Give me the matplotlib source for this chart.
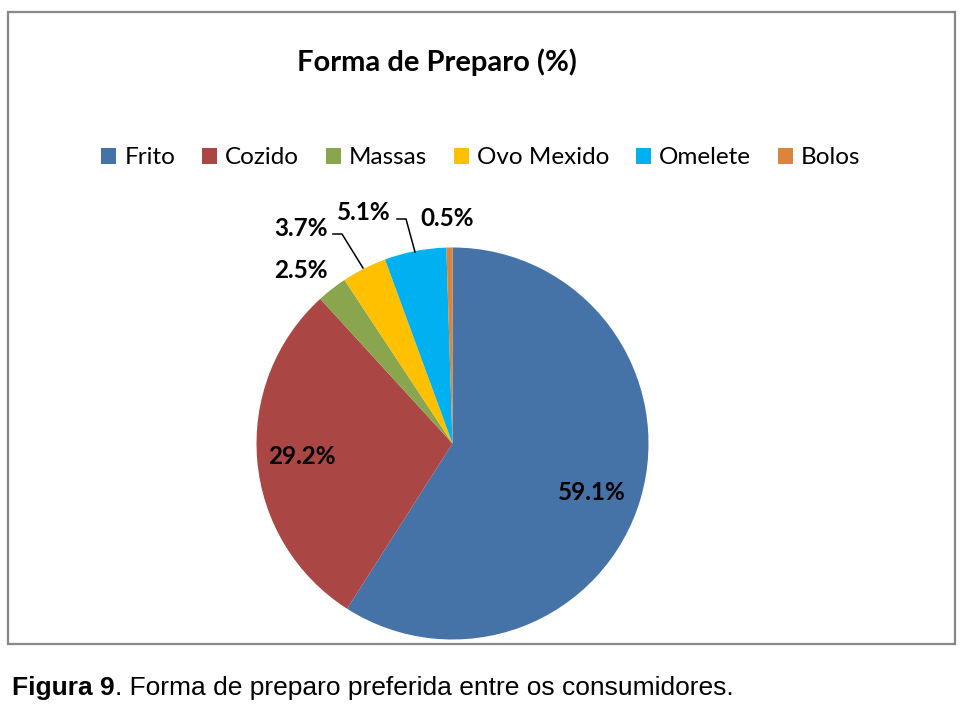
import matplotlib
matplotlib.use("Agg")
import matplotlib.pyplot as plt
import numpy as np
from matplotlib.patches import Rectangle

categories = ["Frito", "Cozido", "Massas", "Ovo Mexido", "Omelete", "Bolos"]
values = [59.1, 29.2, 2.5, 3.7, 5.1, 0.5]
colors = ["#4572A7", "#AA4643", "#89A54E", "#FFC000", "#00B0F0", "#DB843D"]
title = "Forma de Preparo (%)"

W, H = 973, 707
fig = plt.figure(figsize=(W / 100, H / 100), dpi=100)
ax = fig.add_axes([0, 0, 1, 1])

FONT = "Lato"

# chart border
ax.add_patch(Rectangle((8, H - 644), 947, 632, fill=False, edgecolor="#878787", linewidth=1.6))

cx, cy, R = 452.5, H - 443.5, 196
wedges, _ = ax.pie(values, colors=colors, startangle=90, counterclock=False,
                   center=(cx, cy), radius=R, frame=True,
                   wedgeprops=dict(linewidth=0))
ax.set_xlim(0, W)
ax.set_ylim(0, H)
ax.set_aspect("equal")
ax.axis("off")

# data labels (pixel positions, image coords)
label_pos = [(592, 492), (302, 457), (301, 270), (301, 229), (364, 212), (447, 218)]
for v, (x, y) in zip(values, label_pos):
    ax.text(x, H - y, f"{v:.1f}%", ha="center", va="center", fontsize=17.5,
            fontweight="bold", family=FONT, color="black")

# leader lines
leaders = [
    [(333, 234), (342, 234), (363, 268)],
    [(397, 219), (406, 219), (415, 252)],
]
for pts in leaders:
    xs = [p[0] for p in pts]
    ys = [H - p[1] for p in pts]
    ax.plot(xs, ys, color="black", linewidth=1.1)

ax.text(437, H - 62, title, ha="center", va="center", fontsize=21,
        fontweight="bold", family=FONT)

leg = fig.legend(wedges, categories, loc="center", bbox_to_anchor=(481 / W, 1 - 158 / H),
                 ncol=6, frameon=False, prop=dict(family=FONT, size=17.5),
                 handlelength=0.62, handleheight=0.62, handletextpad=0.33,
                 columnspacing=1.1)

# caption
fig.canvas.draw()
t1 = fig.text(12 / W, 1 - 688 / H, "Figura 9", ha="left", va="center", fontsize=19,
              fontweight="bold", family="Liberation Sans")
r = fig.canvas.get_renderer()
bb = t1.get_window_extent(renderer=r)
fig.text(bb.x1 / W, 1 - 688 / H, ". Forma de preparo preferida entre os consumidores.",
         ha="left", va="center", fontsize=19, family="Liberation Sans")

fig.savefig("out.png", dpi=100, facecolor="white")
